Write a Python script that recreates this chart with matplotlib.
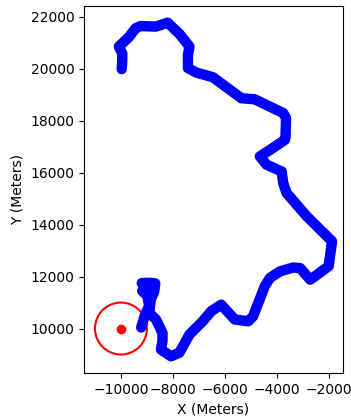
import matplotlib
matplotlib.use('Agg')
import matplotlib.pyplot as plt

# Recorrido en metros (coordenadas X, Y)
x_path = [-9970, -9950, -9950, -10080, -9880, -9690, -9430, -9240, -8650, -8200,
          -7750, -7360, -7420, -7420, -7100, -6460, -5360, -4850, -3750, -3640,
          -3660, -3680, -4260, -4650, -4390, -3810, -3750, -3620, -2840, -1870,
          -2000, -2710, -3100, -3370, -3880, -4260, -4460, -4910, -5100, -5620,
          -6140, -6520, -6850, -7360, -7750, -8070, -8460, -8400, -8400, -8650,
          -8910, -8850, -8720, -8680, -8900, -9200, -8950, -9180, -8990, -8910,
          -9070, -9220]
y_path = [19990, 20350, 20600, 20860, 21050, 21230, 21570, 21650, 21630, 21780,
          21350, 20860, 20540, 20030, 19860, 19680, 18870, 18830, 18300, 18100,
          17400, 17270, 16880, 16630, 16310, 16050, 15600, 15220, 14320, 13360,
          12400, 11880, 12330, 12350, 12200, 11950, 11630, 10470, 10280, 10350,
          10920, 10670, 10280, 9770, 9070, 8930, 9190, 9510, 9830, 10350,
          10600, 11120, 11420, 11740, 11760, 11750, 11580, 11450, 11270, 10880,
          10540, 10040]

# Punto objetivo y radio de la zona
target_x = -10000
target_y = 10000
target_radius = 1000

fig = plt.figure(figsize=(3.51, 4.19), dpi=100)
ax = fig.add_axes([84 / 351, 46 / 419, 259 / 351, 367 / 419])

ax.plot(x_path, y_path, color='blue', linewidth=7.5,
        solid_capstyle='round', solid_joinstyle='round')
ax.plot(target_x, target_y, 'o', color='red', markersize=6)
circle = plt.Circle((target_x, target_y), target_radius, color='red',
                    fill=False, linewidth=1.5)
ax.add_patch(circle)

ax.set_aspect('equal', adjustable='datalim')
ax.set_xlabel('X (Meters)')
ax.set_ylabel('Y (Meters)')

fig.savefig('out.png', dpi=100)
